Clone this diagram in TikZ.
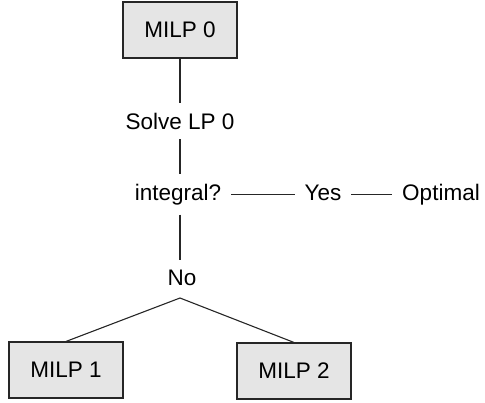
\documentclass[tikz,border=0pt]{standalone}
\usepackage{fontspec}
\setmainfont{Liberation Sans}
\usepackage{tikz}
\usetikzlibrary{positioning}
\tikzset{milp/.style={draw=black!85, fill=gray!20, line width=1.1pt, minimum width=114pt, minimum height=56pt, inner sep=0pt},
	txt/.style={inner sep=0pt, outer sep=10pt},
	link/.style={draw=black!85, line width=1.1pt}}

\begin{document}
\begin{tikzpicture}[x=1pt,y=-1pt,font=\fontsize{22.5}{27}\selectfont]
		\useasboundingbox (0,0) rectangle (485,402);
		\node[milp] (milp0) at (180,30) {MILP 0};
		\node[txt,anchor=base] (solve) at (180,129) {Solve LP 0};
		\node[txt,anchor=base] (int) at (178,200) {integral?};
		\node[txt,anchor=base] (yes) at (323,200) {Yes};
		\node[txt,anchor=base] (opt) at (441,200) {Optimal};
		\node[txt,anchor=base] (no) at (182,285) {No};
		\coordinate (br) at (180,298);
		\node[milp] (milp1) at (66,370) {MILP 1};
		\node[milp] (milp2) at (294,371) {MILP 2};
		\draw[link] (milp0.south) -- (milp0.south |- solve.north);
		\draw[link] (milp0.south |- solve.south) -- (milp0.south |- int.north);
		\draw[link] (int.east) -- (int.east -| yes.west);
		\draw[link] (int.east -| yes.east) -- (int.east -| opt.west);
		\draw[link] (milp0.south |- int.south) -- (milp0.south |- no.north);
		\draw[link] (br) -- (milp1.north);
		\draw[link] (br) -- (milp2.north);
		\end{tikzpicture}
\end{document}
